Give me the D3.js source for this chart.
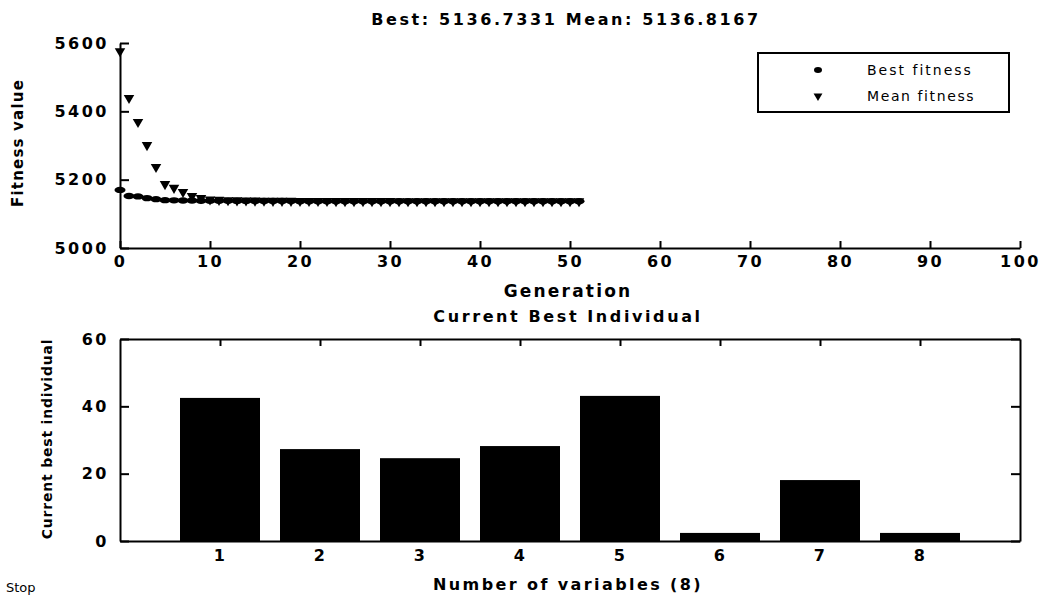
<!DOCTYPE html>
<html lang="en">
<head>
	<meta charset="UTF-8">
	<style>
	body { margin: 0; background: #fff; }
	svg { display: block; }
	.lbl { font-family: "DejaVu Sans", sans-serif; font-weight: bold; fill: #000; }
	.tick text { font-family: "DejaVu Sans", sans-serif; font-weight: bold; font-size: 16px; letter-spacing: 2.5px; fill: #000; }
	.tick line, .domain { stroke: #000; stroke-width: 2px; }
	</style>
	<script src="https://d3js.org/d3.v7.min.js"></script>
	<title>GA progress</title>
</head>
<body>
	<div id="chart">
		<script>
			// Best and mean fitness per generation (index = generation)
			const bestFitness = [5170, 5152, 5151, 5146, 5143, 5140, 5139.5, 5139, 5138.8, 5138.5,
				5138.3, 5138.1, 5138, 5137.9, 5137.8, 5137.7, 5137.6, 5137.5, 5137.4, 5137.3,
				5137.2, 5137.2, 5137.1, 5137.1, 5137, 5137, 5137, 5136.95, 5136.95, 5136.9,
				5136.9, 5136.9, 5136.85, 5136.85, 5136.85, 5136.8, 5136.8, 5136.8, 5136.8, 5136.78,
				5136.78, 5136.77, 5136.77, 5136.76, 5136.76, 5136.75, 5136.75, 5136.75, 5136.74, 5136.74,
				5136.74, 5136.7331];
			const meanFitness = [5576, 5439, 5369, 5301, 5237, 5187, 5176, 5164, 5152, 5146,
				5142, 5141, 5140, 5139.5, 5139, 5138.6, 5138.3, 5138.1, 5138, 5137.9,
				5137.8, 5137.7, 5137.6, 5137.5, 5137.4, 5137.3, 5137.3, 5137.2, 5137.2, 5137.1,
				5137.1, 5137.05, 5137, 5137, 5136.98, 5136.96, 5136.95, 5136.94, 5136.93, 5136.92,
				5136.91, 5136.9, 5136.89, 5136.88, 5136.87, 5136.86, 5136.85, 5136.84, 5136.83, 5136.83,
				5136.82, 5136.8167];
			const genTicks = [0, 10, 20, 30, 40, 50, 60, 70, 80, 90, 100];
			const fitTicks = [5000, 5200, 5400, 5600];

			// Current best individual
			const variables = [1, 2, 3, 4, 5, 6, 7, 8];
			const individual = [42.5, 27.3, 24.6, 28.2, 43.1, 2.4, 18.1, 2.4];
			const indTicks = [0, 20, 40, 60];

			const titleText = "Best: 5136.7331 Mean: 5136.8167";

			const svg = d3.select("#chart").append("svg")
				.attr("width", 1047)
				.attr("height", 599);

			/* ----- TOP PLOT ----- */
			const x = d3.scaleLinear().domain([0, 100]).range([120, 1020]);
			const y = d3.scaleLinear().domain([5000, 5600]).range([248, 43]);

			svg.append("g")
				.attr("transform", "translate(0,248)")
				.call(d3.axisBottom(x).tickValues(genTicks).tickSizeInner(-7).tickSizeOuter(0).tickPadding(8));
			svg.append("g")
				.attr("transform", "translate(120,0)")
				.call(d3.axisLeft(y).tickValues(fitTicks).tickFormat(d3.format("d"))
					.tickSizeInner(-9).tickSizeOuter(0).tickPadding(11));

			// mean markers (down triangles)
			svg.append("g").selectAll("path")
				.data(meanFitness)
				.join("path")
				.attr("d", d3.symbol(d3.symbolTriangle, 48))
				.attr("transform", (d, i) => "translate(" + x(i) + "," + y(d) + ") rotate(180)")
				.attr("fill", "#000");

			// best markers (dots)
			svg.append("g").selectAll("ellipse")
				.data(bestFitness)
				.join("ellipse")
				.attr("cx", (d, i) => x(i))
				.attr("cy", d => y(d))
				.attr("rx", 5.5)
				.attr("ry", 3.2)
				.attr("fill", "#000");

			svg.append("text").attr("class", "lbl")
				.attr("x", 566).attr("y", 25)
				.attr("text-anchor", "middle")
				.style("font-size", "16px").style("letter-spacing", "2.6px")
				.text(titleText);
			svg.append("text").attr("class", "lbl")
				.attr("x", 568).attr("y", 297)
				.attr("text-anchor", "middle")
				.style("font-size", "17px").style("letter-spacing", "2.2px")
				.text("Generation");
			svg.append("text").attr("class", "lbl")
				.attr("transform", "translate(23,143) rotate(-90)")
				.attr("text-anchor", "middle")
				.style("font-size", "15px").style("letter-spacing", "1.2px")
				.text("Fitness value");

			// legend
			svg.append("rect")
				.attr("x", 758).attr("y", 53)
				.attr("width", 251).attr("height", 59)
				.attr("fill", "#fff").attr("stroke", "#000").attr("stroke-width", 2);
			svg.append("ellipse")
				.attr("cx", 818).attr("cy", 70).attr("rx", 4).attr("ry", 3)
				.attr("fill", "#000");
			svg.append("path")
				.attr("d", d3.symbol(d3.symbolTriangle, 34))
				.attr("transform", "translate(818,96) rotate(180)")
				.attr("fill", "#000");
			svg.append("text").attr("class", "lbl")
				.attr("x", 867).attr("y", 75)
				.style("font-size", "14px").style("font-weight", "normal").style("letter-spacing", "2px")
				.text("Best fitness");
			svg.append("text").attr("class", "lbl")
				.attr("x", 867).attr("y", 101)
				.style("font-size", "14px").style("font-weight", "normal").style("letter-spacing", "1.6px")
				.text("Mean fitness");

			/* ----- BOTTOM PLOT ----- */
			const x2 = d3.scaleLinear().domain([0, 9]).range([120, 1020]);
			const y2 = d3.scaleLinear().domain([0, 60]).range([541, 339]);

			svg.append("g")
				.attr("transform", "translate(0,339)")
				.call(d3.axisTop(x2).tickValues(variables).tickSizeInner(-7).tickSizeOuter(0).tickFormat(""));
			svg.append("g")
				.attr("transform", "translate(1020,0)")
				.call(d3.axisRight(y2).tickValues(indTicks).tickSizeInner(-9).tickSizeOuter(0).tickFormat(""));
			svg.append("g")
				.attr("transform", "translate(0,541)")
				.call(d3.axisBottom(x2).tickValues(variables).tickSizeInner(-7).tickSizeOuter(0).tickPadding(9));
			svg.append("g")
				.attr("transform", "translate(120,0)")
				.call(d3.axisLeft(y2).tickValues(indTicks).tickSizeInner(-9).tickSizeOuter(0).tickPadding(11));

			svg.append("g").selectAll("rect")
				.data(individual)
				.join("rect")
				.attr("x", (d, i) => x2(variables[i] - 0.4))
				.attr("width", x2(0.8) - x2(0))
				.attr("y", d => y2(d))
				.attr("height", d => y2(0) - y2(d))
				.attr("fill", "#000");

			svg.append("text").attr("class", "lbl")
				.attr("x", 568).attr("y", 322)
				.attr("text-anchor", "middle")
				.style("font-size", "16px").style("letter-spacing", "2.6px")
				.text("Current Best Individual");
			svg.append("text").attr("class", "lbl")
				.attr("x", 568).attr("y", 590)
				.attr("text-anchor", "middle")
				.style("font-size", "16px").style("letter-spacing", "2.4px")
				.text("Number of variables (8)");
			svg.append("text").attr("class", "lbl")
				.attr("transform", "translate(52,439) rotate(-90)")
				.attr("text-anchor", "middle")
				.style("font-size", "14px").style("letter-spacing", "0.8px")
				.text("Current best individual");
			svg.append("text").attr("class", "lbl")
				.attr("x", 6).attr("y", 592)
				.style("font-size", "13px").style("font-weight", "normal")
				.text("Stop");
		</script>
	</div>
</body>
</html>
